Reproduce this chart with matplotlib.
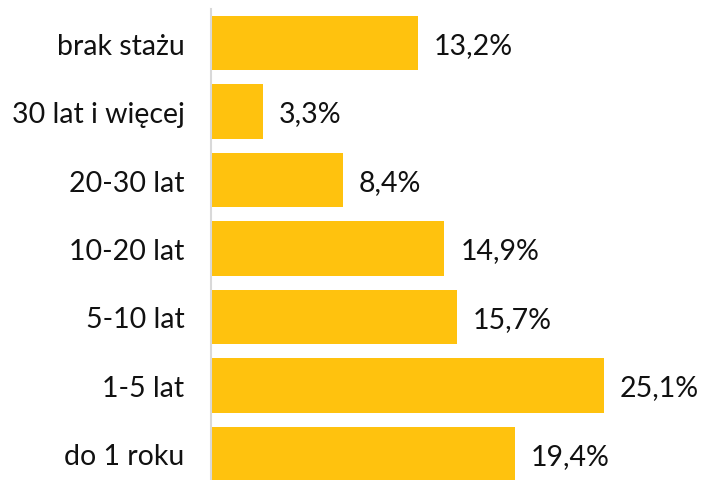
import matplotlib
matplotlib.use('Agg')
import matplotlib.pyplot as plt

categories = ['brak stażu', '30 lat i więcej', '20-30 lat', '10-20 lat', '5-10 lat', '1-5 lat', 'do 1 roku']
values = [13.2, 3.3, 8.4, 14.9, 15.7, 25.1, 19.4]
value_labels = ['13,2%', '3,3%', '8,4%', '14,9%', '15,7%', '25,1%', '19,4%']

plt.rcParams['font.family'] = ['Lato', 'DejaVu Sans']

W, H = 704, 481
fig = plt.figure(figsize=(W / 100, H / 100), dpi=100)
# axes placed in pixel terms: x=0 at 211px, 15.66 px per percent
px_per_unit = 15.66
x_max = 31
top, step = 9.75, 68.5
height_px = step * len(categories)
ax = fig.add_axes([211 / W, (H - top - height_px) / H, x_max * px_per_unit / W, height_px / H])

ypos = list(range(len(categories)))[::-1]
ax.barh(ypos, values, height=0.79, color='#FFC20E')
ax.set_xlim(0, x_max)
ax.set_ylim(-0.5, len(categories) - 0.5)

for y, v, lab in zip(ypos, values, value_labels):
    ax.annotate(lab, (v, y), xytext=(16, -2), textcoords='offset pixels',
                ha='left', va='center', fontsize=20.5, color='#111111')

ax.set_yticks(ypos)
ax.set_yticklabels(categories, fontsize=20.5, color='#111111')
ax.tick_params(axis='y', length=0, pad=19)
ax.set_xticks([])
for s in ['top', 'right', 'bottom']:
    ax.spines[s].set_visible(False)
ax.spines['left'].set_color('#D9D9D9')
ax.spines['left'].set_linewidth(1.5)

fig.savefig('out.png', dpi=100)
